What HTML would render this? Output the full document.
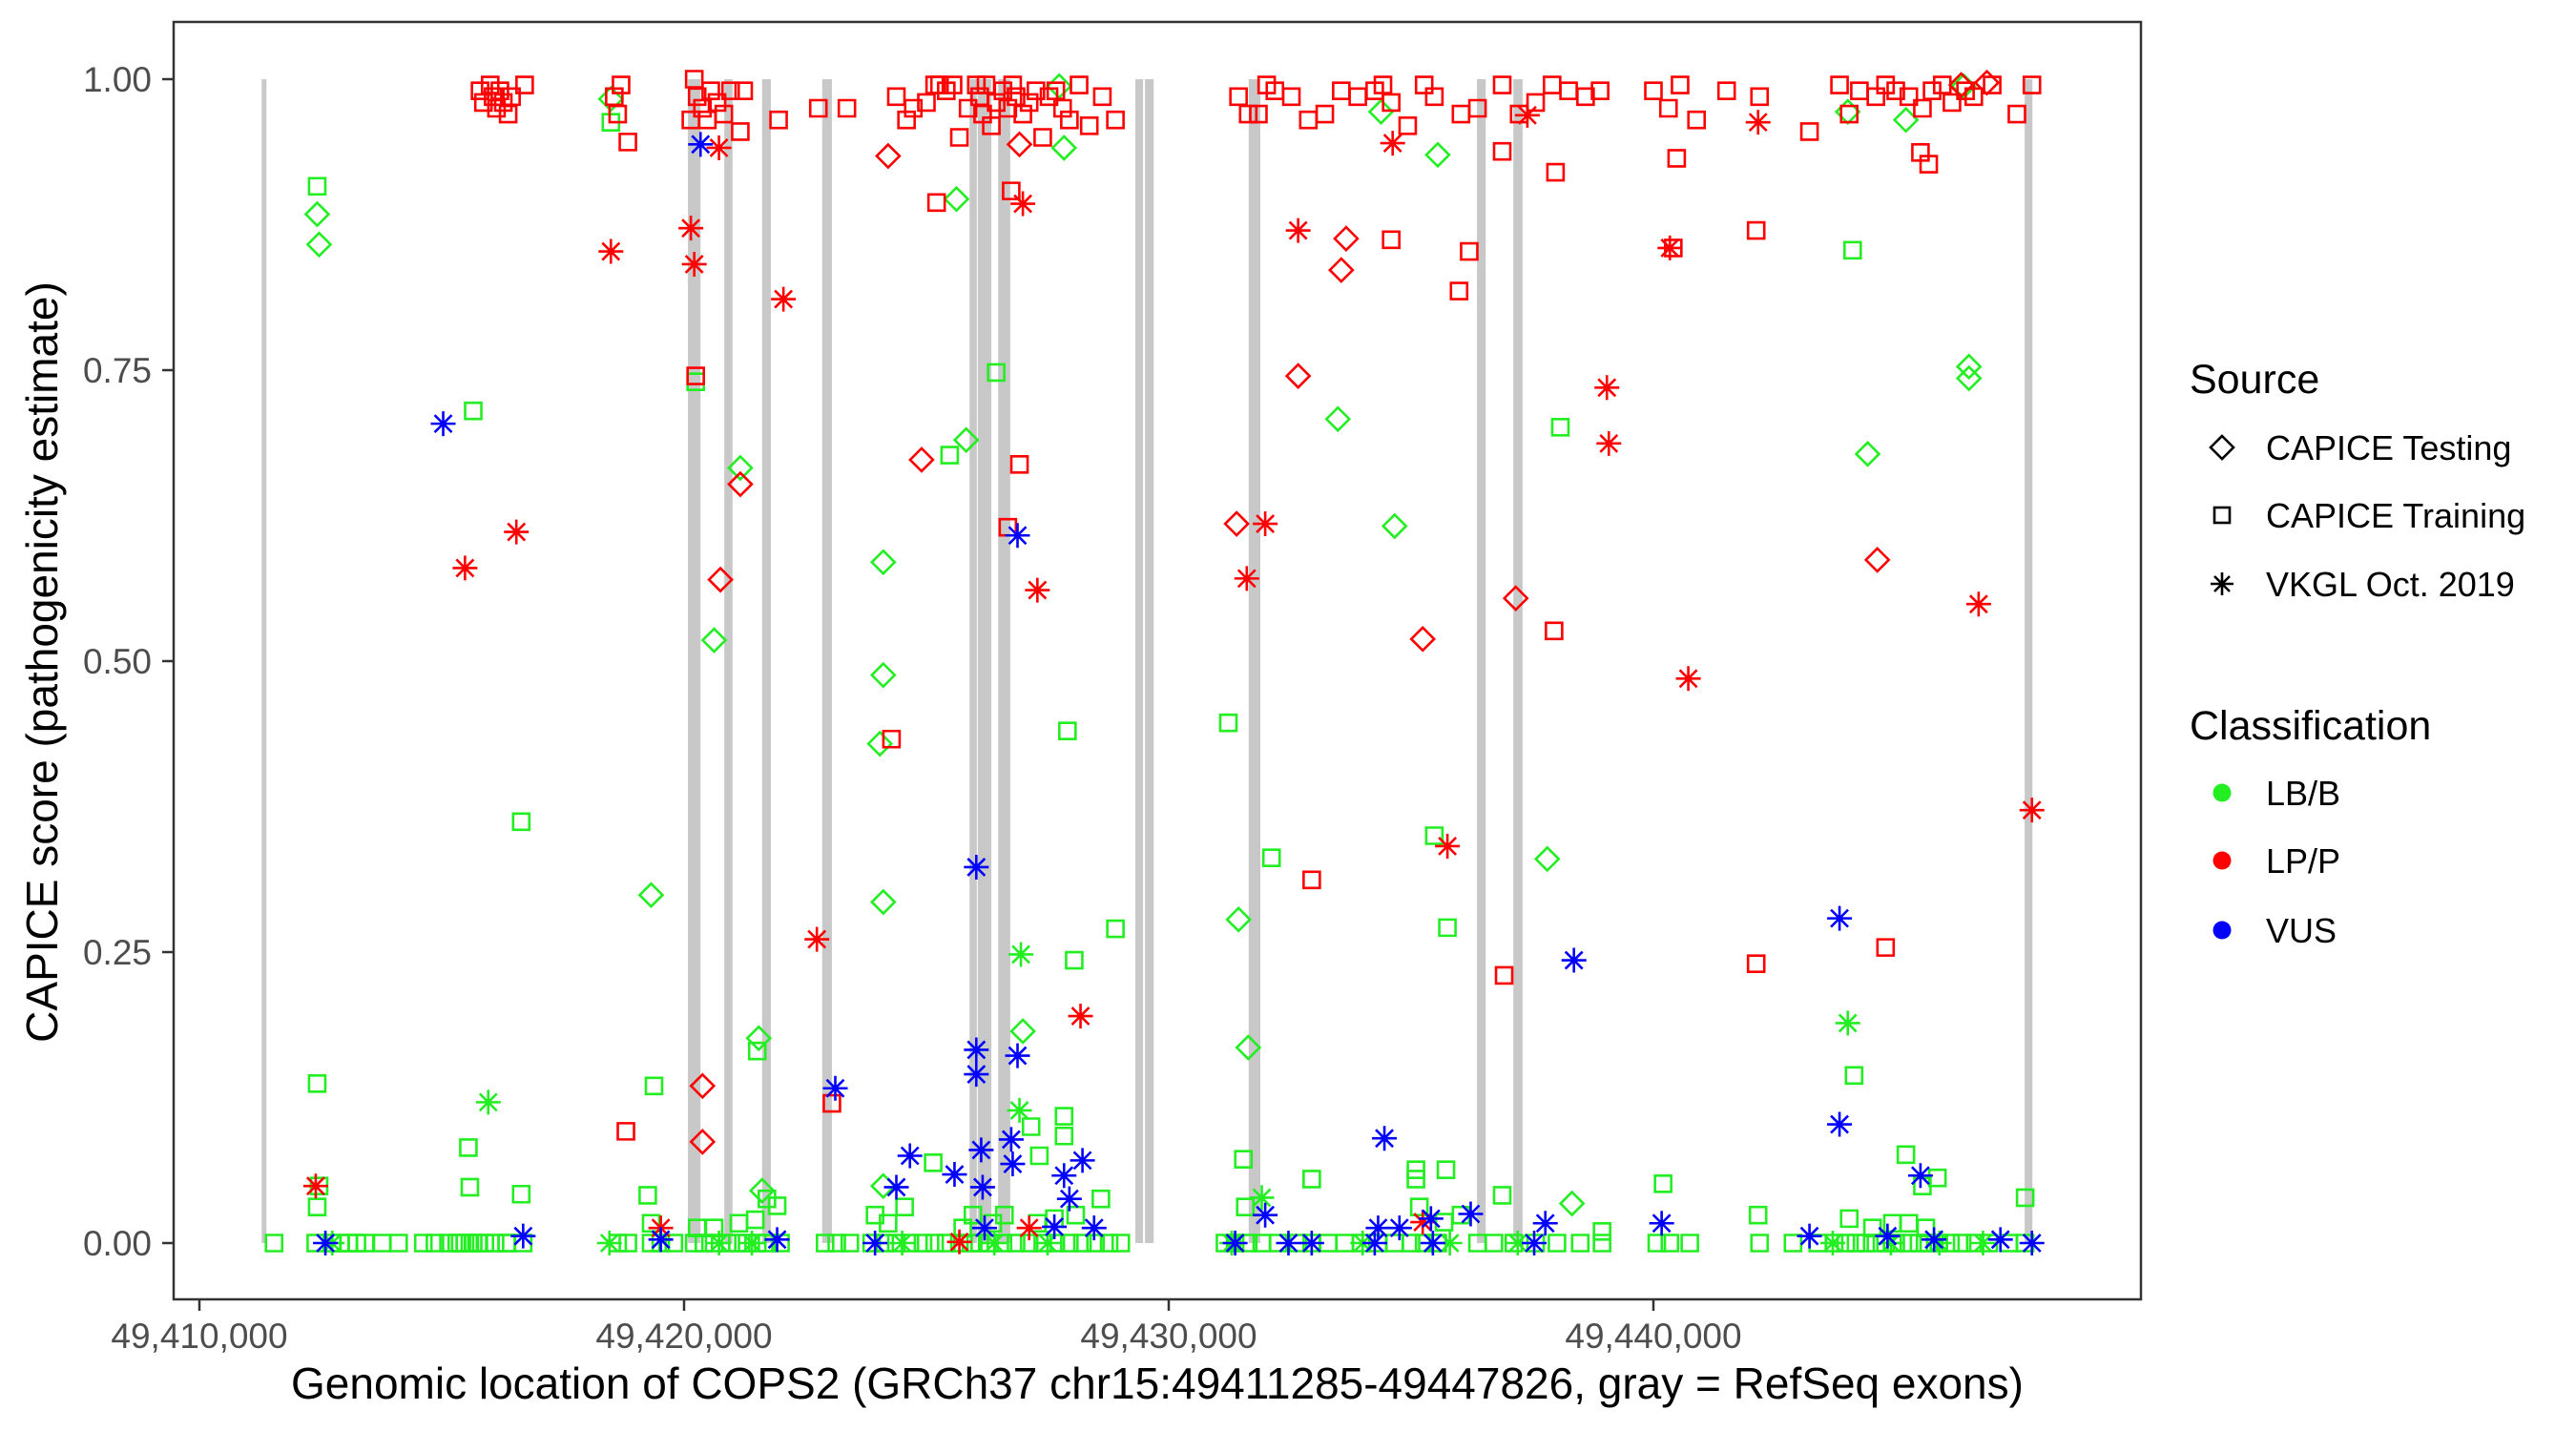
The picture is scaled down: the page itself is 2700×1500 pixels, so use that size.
<!DOCTYPE html>
<html><head><meta charset="utf-8"><style>
html,body{margin:0;padding:0;background:#fff;}
svg{display:block;font-family:"Liberation Sans",Arial,sans-serif;}
</style></head><body>
<svg id="chart" width="2700" height="1500" viewBox="0 0 2700 1500" xmlns="http://www.w3.org/2000/svg">
<rect x="0" y="0" width="2700" height="1500" fill="#fff"/>
<g id="exons"></g>
<g id="points"></g>
<rect x="182" y="23" width="2062" height="1339" fill="none" stroke="#333" stroke-width="2.5"/>
<g id="yaxis"></g>
<g id="xaxis"></g>
<text x="1213" y="1466" font-size="46" text-anchor="middle" fill="#000">Genomic location of COPS2 (GRCh37 chr15:49411285-49447826, gray = RefSeq exons)</text>
<text transform="translate(60,694) rotate(-90)" font-size="46" text-anchor="middle" fill="#000">CAPICE score (pathogenicity estimate)</text>
<g>
<text x="2295" y="412" font-size="43" fill="#000">Source</text>
<path d="M2329,457 L2341,469 L2329,481 L2317,469 Z" fill="none" stroke="#000" stroke-width="2.6"/>
<text x="2375" y="482" font-size="36" fill="#000">CAPICE Testing</text>
<rect x="2321" y="532" width="16" height="16" fill="none" stroke="#000" stroke-width="2.6"/>
<text x="2375" y="553" font-size="36" fill="#000">CAPICE Training</text>
<path d="M2317,612 L2341,612 M2329,600 L2329,624 M2321,604 L2337,620 M2321,620 L2337,604" stroke="#000" stroke-width="2.6"/>
<text x="2375" y="625" font-size="36" fill="#000">VKGL Oct. 2019</text>
<text x="2295" y="775" font-size="43" fill="#000">Classification</text>
<circle cx="2329" cy="831" r="9.5" fill="#22ee22"/>
<text x="2375" y="844" font-size="36" fill="#000">LB/B</text>
<circle cx="2329" cy="902" r="9.5" fill="#ff0000"/>
<text x="2375" y="915" font-size="36" fill="#000">LP/P</text>
<circle cx="2329" cy="975" r="9.5" fill="#0000ff"/>
<text x="2375" y="988" font-size="36" fill="#000">VUS</text>
</g>
</svg>
<script>
// positions are kb offsets from 49,410,000 (chr15); scores are CAPICE scores
const xTicks = [0, 10, 20, 30, 40];
const xTickLabels = ["49,410,000", "49,420,000", "49,430,000", "49,440,000"];
const yTicks = [0, 0.25, 0.5, 0.75, 1];
const yTickLabels = ["0.00", "0.25", "0.50", "0.75", "1.00"];
const exonStart = [1.285, 10.08, 10.83, 11.61, 12.85, 15.89, 16.06, 16.48, 19.31, 19.51, 21.65, 26.36, 27.11, 37.66];
const exonEnd   = [1.38, 10.34, 11.0, 11.79, 13.05, 16.04, 16.34, 16.73, 19.47, 19.69, 21.89, 26.54, 27.30, 37.82];

// CAPICE Testing (diamonds)
const testLbbPos = [2.43,2.47,8.49,9.32,11.16,10.62,11.54,11.61,14.11,14.11,14.04,14.11,14.11,15.62,15.82,16.99,17.84,17.74,21.64,21.44,23.49,24.38,24.66,25.55,27.81,28.32,34.42,35.21,36.51,36.51,36.40,34.01];
const testLbbScore = [.884,.858,.983,.299,.666,.518,.176,.045,.585,.488,.429,.293,.049,.897,.69,.182,.941,.994,.168,.278,.708,.972,.616,.935,.33,.034,.678,.965,.753,.743,.994,.972];
const testLppPos = [14.21,14.90,16.92,11.16,10.75,10.38,10.38,21.40,22.67,23.66,23.56,25.24,27.16,34.62,36.88,36.35];
const testLppScore = [.934,.673,.944,.652,.57,.135,.087,.618,.745,.863,.836,.519,.554,.587,.997,.995];

// CAPICE Training (squares)
const trainLbbPos = [2.43,2.43,2.47,2.43,5.65,6.64,5.55,5.58,6.64,9.38,9.25,10.24,11.51,11.92,15.48,16.44,17.91,18.05,18.90,17.84,17.84,17.16,17.33,18.60,15.14,21.23,22.12,21.54,21.58,22.95,25.48,25.75,25.10,25.10,25.72,28.08,26.88,28.94,30.20,32.16,34.14,34.11,35.21,35.55,35.86,37.67,8.49,
 1.54,2.40,2.74,2.91,3.08,3.25,3.42,3.77,4.11,4.62,4.86,5.14,5.31,5.48,5.65,5.75,5.89,6.10,6.34,6.68,8.63,8.84,9.32,9.52,9.79,10.21,10.41,10.62,10.89,11.10,11.30,11.51,11.71,11.99,12.91,13.15,13.42,13.87,14.14,14.38,14.66,14.93,15.17,15.41,15.68,15.92,16.10,16.30,16.58,16.85,17.12,17.40,17.67,17.95,18.22,18.49,18.77,19.01,21.16,21.37,21.64,21.92,22.26,22.67,22.95,23.29,23.63,23.97,24.32,24.66,25.00,25.27,25.55,26.37,26.71,27.12,27.57,28.01,28.49,28.94,30.07,30.34,30.75,32.19,32.88,33.39,33.73,33.97,34.18,34.38,34.59,34.79,35.00,35.27,35.48,35.68,35.89,36.13,36.37,36.64,36.92,37.33,37.67,
 5.58,5.38,6.34,9.32,10.27,10.62,11.13,11.47,11.71,13.94,14.21,14.55,15.75,15.96,16.37,16.61,17.29,17.64,18.08,25.17,26.03,25.68,34.04,34.52,34.93,35.27,35.62];
const trainLbbScore = [.908,.137,.049,.031,.715,.362,.082,.048,.042,.135,.041,.74,.165,.032,.677,.748,.44,.243,.27,.109,.092,.1,.075,.038,.069,.447,.331,.072,.031,.055,.35,.271,.063,.055,.063,.701,.041,.01,.051,.024,.144,.853,.076,.049,.056,.039,.963,
 0,0,0,0,0,0,0,0,0,0,0,0,0,0,0,0,0,0,0,0,0,0,0,0,0,0,0,0,0,0,0,0,0,0,0,0,0,0,0,0,0,0,0,0,0,0,0,0,0,0,0,0,0,0,0,0,0,0,0,0,0,0,0,0,0,0,0,0,0,0,0,0,0,0,0,0,0,0,0,0,0,0,0,0,0,0,0,0,0,0,0,0,0,0,0,0,0,0,0,0,0,0,0,0,0,0,
 .017,.013,.013,.017,.02,.038,.024,.017,.031,.013,.024,.017,.024,.017,.021,.024,.031,.024,.018,.021,.013,.017,.017,.013,.017,.021,.013];
const trainLppPos = [5.79,5.86,6.00,6.06,6.13,6.20,6.27,6.37,6.44,6.71,8.56,8.63,8.70,8.84,10.14,10.21,10.27,10.38,10.48,10.55,10.68,10.82,10.96,11.16,11.23,11.95,12.77,13.36,
 14.38,14.59,14.73,15.00,15.17,15.27,15.41,15.55,15.68,15.86,16.03,16.10,16.16,16.23,16.34,16.44,16.58,16.68,16.78,16.85,16.99,17.12,17.26,17.40,17.53,17.67,17.81,17.95,18.15,18.36,18.63,18.90,
 21.44,21.64,21.85,22.02,22.19,22.53,22.88,23.22,23.56,23.90,24.25,24.42,24.59,24.93,25.27,25.48,26.03,26.37,26.88,27.23,27.57,27.91,28.25,28.60,28.90,
 30.00,30.31,30.55,30.89,31.51,32.19,33.22,33.84,34.04,34.25,34.59,34.79,35.00,35.27,35.55,35.75,35.96,36.16,36.44,36.61,36.99,37.50,37.81,
 15.21,16.75,16.68,16.92,14.28,13.05,8.80,10.24,24.59,26.20,25.99,22.95,26.92,27.95,27.98,26.88,30.48,30.41,32.12,32.12,34.79,35.51,35.68];
const trainLppScore = [.99,.98,.995,.985,.975,.99,.98,.97,.985,.995,.985,.97,.995,.946,.965,1.0,.985,.975,.965,.99,.98,.97,.99,.955,.99,.965,.975,.975,
 .985,.965,.975,.98,.995,.995,.99,.995,.95,.975,.995,.985,.97,.995,.96,.98,.99,.975,.995,.985,.97,.98,.99,.95,.985,.99,.975,.965,.995,.96,.985,.965,
 .985,.97,.97,.995,.99,.985,.965,.97,.99,.985,.99,.995,.98,.96,.995,.985,.97,.975,.995,.97,.98,.995,.99,.985,.99,
 .99,.975,.995,.965,.99,.985,.955,.995,.97,.99,.985,.995,.99,.985,.975,.99,.995,.98,.99,.985,.995,.97,.995,
 .894,.904,.615,.669,.433,.12,.096,.745,.862,.852,.818,.312,.23,.526,.92,.938,.932,.855,.87,.24,.254,.937,.927];

// VKGL Oct. 2019 (asterisks)
const vkglLbbPos = [5.96,16.95,16.92,34.01,21.92,8.46,10.72,2.74,11.40,14.50,16.40,17.50,21.30,24.00,25.80,27.20,33.70,34.90,35.90,36.80];
const vkglLbbScore = [.121,.248,.114,.189,.039,0,0,0,0,0,0,0,0,0,0,0,0,0,0,0];
const vkglLppPos = [2.40,5.48,6.54,8.49,10.14,10.21,10.72,12.05,12.74,16.99,17.29,18.18,15.68,17.12,9.52,21.61,21.99,22.67,24.62,25.75,27.40,29.04,29.08,30.34,30.72,32.16,36.71,37.81,25.24];
const vkglLppScore = [.049,.58,.611,.852,.872,.841,.941,.811,.261,.893,.561,.195,.001,.013,.013,.571,.618,.87,.945,.341,.969,.735,.687,.855,.485,.963,.549,.372,.018];
const vkglVusPos = [5.03,10.34,2.60,6.68,9.52,11.92,13.12,14.66,14.38,16.03,16.03,16.03,16.88,16.88,15.58,16.13,16.16,16.75,16.78,17.84,18.22,17.95,17.64,18.46,16.20,13.94,21.99,24.45,24.32,24.76,25.41,26.23,27.77,28.36,30.17,33.84,33.84,35.51,33.22,34.83,37.16,37.81,21.37,22.47,22.95,24.25,25.45,27.54,35.79];
const vkglVusScore = [.704,.944,0,.006,.003,.003,.133,.075,.048,.323,.166,.145,.608,.161,.059,.08,.048,.089,.068,.058,.071,.038,.014,.013,.013,0,.024,.09,.013,.013,.021,.025,.017,.243,.017,.279,.102,.058,.006,.006,.003,0,0,0,0,0,0,0,.003];

const X0 = 209, XPX = 50.8, Y0 = 1303, YPX = 1220;
function xScale(kb){ return X0 + kb * XPX; }
function yScale(s){ return Y0 - s * YPX; }
const NS = "http://www.w3.org/2000/svg";
const colors = {lbb:"#22ee22", lpp:"#ff0000", vus:"#0000ff"};

const exG = document.getElementById("exons");
for (let i = 0; i < exonStart.length; i++) {
  const r = document.createElementNS(NS, "rect");
  
  
  const x1 = xScale(exonStart[i]), x2 = xScale(exonEnd[i]);
  r.setAttribute("x", x1); r.setAttribute("width", Math.max(5, x2 - x1));
  r.setAttribute("y", yScale(1)); r.setAttribute("height", yScale(0) - yScale(1));
  r.setAttribute("fill", "#c8c8c8");
  exG.appendChild(r);
}

const ptG = document.getElementById("points");
function marker(shape, cx, cy, col){
  const p = document.createElementNS(NS, "path");
  let d;
  if (shape === "diamond") d = `M${cx},${cy-12} L${cx+12},${cy} L${cx},${cy+12} L${cx-12},${cy} Z`;
  else if (shape === "square") d = `M${cx-8.5},${cy-8.5} h17 v17 h-17 Z`;
  else d = `M${cx-13},${cy} h26 M${cx},${cy-13} v26 M${cx-9},${cy-9} l18,18 M${cx-9},${cy+9} l18,-18`;
  p.setAttribute("d", d);
  p.setAttribute("fill", "none");
  p.setAttribute("stroke", col);
  p.setAttribute("stroke-width", "2.6");
  return p;
}
function drawSeries(pos, score, shape, cls, name){
  for (let i = 0; i < pos.length; i++) {
    const m = marker(shape, xScale(pos[i]), yScale(score[i]), colors[cls]);
    
    
    ptG.appendChild(m);
  }
}
drawSeries(trainLbbPos, trainLbbScore, "square", "lbb", "training-lbb-point");
drawSeries(testLbbPos, testLbbScore, "diamond", "lbb", "testing-lbb-point");
drawSeries(vkglLbbPos, vkglLbbScore, "star", "lbb", "vkgl-lbb-point");
drawSeries(trainLppPos, trainLppScore, "square", "lpp", "training-lpp-point");
drawSeries(testLppPos, testLppScore, "diamond", "lpp", "testing-lpp-point");
drawSeries(vkglLppPos, vkglLppScore, "star", "lpp", "vkgl-lpp-point");
drawSeries(vkglVusPos, vkglVusScore, "star", "vus", "vkgl-vus-point");

const yG = document.getElementById("yaxis");
yTicks.forEach((v, i) => {
  const y = yScale(v);
  const l = document.createElementNS(NS, "line");
  
  
  l.setAttribute("x1", 170); l.setAttribute("x2", 182); l.setAttribute("y1", y); l.setAttribute("y2", y);
  l.setAttribute("stroke", "#333"); l.setAttribute("stroke-width", "2.5");
  yG.appendChild(l);
  const t = document.createElementNS(NS, "text");
  
  
  t.setAttribute("x", 159); t.setAttribute("y", y + 13);
  t.setAttribute("text-anchor", "end"); t.setAttribute("font-size", "37"); t.setAttribute("fill", "#4d4d4d");
  t.textContent = yTickLabels[i];
  yG.appendChild(t);
});
const xG = document.getElementById("xaxis");
xTickLabels.forEach((lab, i) => {
  const x = xScale(xTicks[i]);
  const l = document.createElementNS(NS, "line");
  
  
  l.setAttribute("x1", x); l.setAttribute("x2", x); l.setAttribute("y1", 1362); l.setAttribute("y2", 1374);
  l.setAttribute("stroke", "#333"); l.setAttribute("stroke-width", "2.5");
  xG.appendChild(l);
  const t = document.createElementNS(NS, "text");
  
  
  t.setAttribute("x", x); t.setAttribute("y", 1413);
  t.setAttribute("text-anchor", "middle"); t.setAttribute("font-size", "37"); t.setAttribute("fill", "#4d4d4d");
  t.textContent = lab;
  xG.appendChild(t);
});
</script>
</body></html>
